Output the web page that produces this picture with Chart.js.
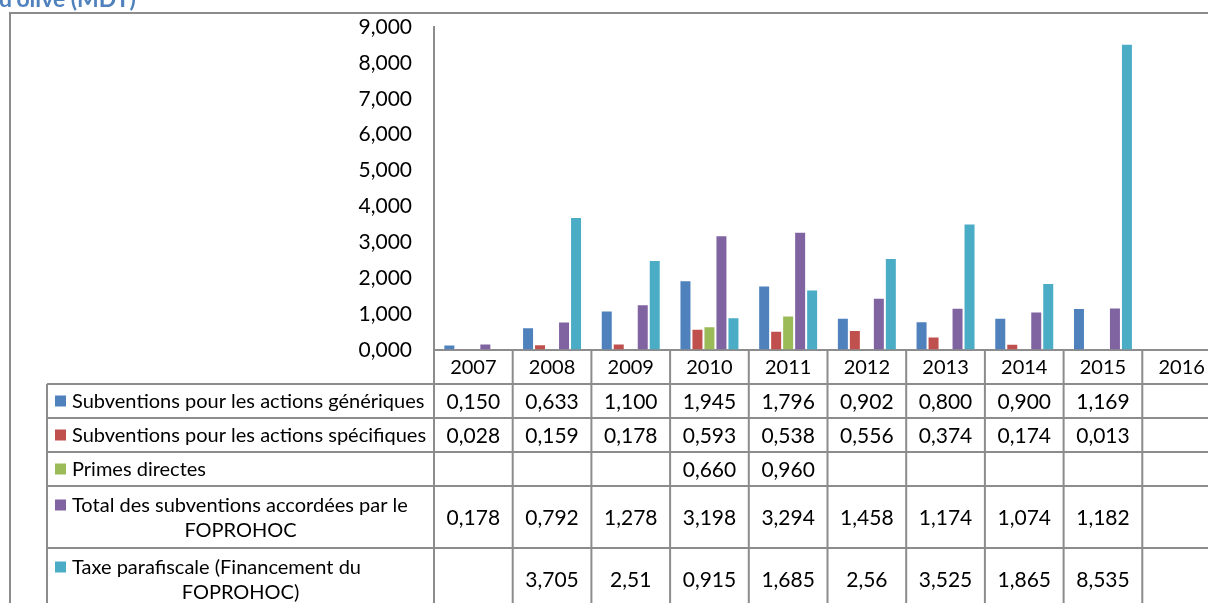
<!DOCTYPE html>
<html>
<head>
<meta charset="utf-8">
<script src="https://cdn.jsdelivr.net/npm/chart.js@4.4.0/dist/chart.umd.min.js"></script>
<style>
  html, body { margin: 0; padding: 0; background: #fff; overflow: hidden; width: 1208px; height: 603px; }
  #wrap { position: relative; width: 1208px; height: 603px; overflow: hidden; }
  canvas { position: absolute; left: 0; top: 0; }
</style>
</head>
<body>
<div id="wrap"><canvas id="chart" width="1240" height="603"></canvas></div>
<script>
// Years shown on the category axis and in the table header
const years = ['2007', '2008', '2009', '2010', '2011', '2012', '2013', '2014', '2015', '2016'];

// Series names as they appear in the data table
const seriesNames = [
  ['Subventions pour les actions génériques'],
  ['Subventions pour les actions spécifiques'],
  ['Primes directes'],
  ['Total des subventions accordées par le', 'FOPROHOC'],
  ['Taxe parafiscale (Financement du', 'FOPROHOC)']
];

// Table values (MDT), written as printed; empty string = no value
const actionsGeneriques   = ['0,150', '0,633', '1,100', '1,945', '1,796', '0,902', '0,800', '0,900', '1,169', ''];
const actionsSpecifiques  = ['0,028', '0,159', '0,178', '0,593', '0,538', '0,556', '0,374', '0,174', '0,013', ''];
const primesDirectes      = ['', '', '', '0,660', '0,960', '', '', '', '', ''];
const totalSubventions    = ['0,178', '0,792', '1,278', '3,198', '3,294', '1,458', '1,174', '1,074', '1,182', ''];
const taxeParafiscale     = ['', '3,705', '2,51', '0,915', '1,685', '2,56', '3,525', '1,865', '8,535', ''];

const seriesText = [actionsGeneriques, actionsSpecifiques, primesDirectes, totalSubventions, taxeParafiscale];
const seriesColors = ['#4F81BD', '#C0504D', '#9BBB59', '#8064A2', '#4BACC6'];

const toNumber = s => (s === '' ? null : parseFloat(s.replace(',', '.')));
const fmtTick = v => v.toFixed(3).replace('.', ',');

const FONT = 'Lato, "Open Sans", sans-serif';
const LINE = '#8c8c8c';

// Table layout below the plot
const TABLE = {
  left: 47,
  headerH: 34,
  rowH: [34, 34, 34, 62, 62],
  keySize: 11,
  keyX: 55,
  textX: 72
};

const frameAndTable = {
  id: 'frameAndTable',
  beforeDraw(chart) {
    const ctx = chart.ctx;
    ctx.save();
    // section heading, partly cut off by the top edge
    ctx.fillStyle = '#4F81BD';
    ctx.font = 'bold 23px ' + FONT;
    ctx.textAlign = 'left';
    ctx.textBaseline = 'alphabetic';
    ctx.fillText("d'olive (MDT)", -1, 7);
    // chart frame
    ctx.strokeStyle = LINE;
    ctx.lineWidth = 2;
    ctx.beginPath();
    ctx.moveTo(10, chart.height + 5);
    ctx.lineTo(10, 13);
    ctx.lineTo(chart.width + 5, 13);
    ctx.stroke();
    ctx.restore();
  },
  afterDraw(chart) {
    const ctx = chart.ctx;
    const xs = chart.scales.x;
    const area = chart.chartArea;
    const step = xs.getPixelForValue(1) - xs.getPixelForValue(0);
    const edges = years.map((_, i) => xs.getPixelForValue(i) - step / 2);
    edges.push(xs.getPixelForValue(years.length - 1) + step / 2);

    const top = area.bottom;
    const headerBottom = top + TABLE.headerH;
    const rowTops = [headerBottom];
    TABLE.rowH.forEach(h => rowTops.push(rowTops[rowTops.length - 1] + h));
    const tableBottom = rowTops[rowTops.length - 1];

    ctx.save();
    ctx.strokeStyle = LINE;
    ctx.lineWidth = 2;
    ctx.beginPath();
    // vertical lines of the value columns
    edges.forEach(x => { ctx.moveTo(x, top); ctx.lineTo(x, tableBottom); });
    // label column left border
    ctx.moveTo(TABLE.left, headerBottom); ctx.lineTo(TABLE.left, tableBottom);
    // horizontal rules
    rowTops.forEach(y => { ctx.moveTo(TABLE.left, y); ctx.lineTo(edges[edges.length - 1], y); });
    ctx.stroke();

    ctx.fillStyle = '#000';
    ctx.textBaseline = 'middle';
    // header years
    ctx.font = '20px ' + FONT;
    ctx.textAlign = 'center';
    years.forEach((y, i) => ctx.fillText(y, xs.getPixelForValue(i), (top + headerBottom) / 2 + 1));

    // rows
    seriesNames.forEach((lines, r) => {
      const y0 = rowTops[r], y1 = rowTops[r + 1];
      const mid = (y0 + y1) / 2;
      ctx.font = '20px ' + FONT;
      if (lines.length === 1) {
        ctx.fillStyle = seriesColors[r];
        ctx.fillRect(TABLE.keyX, mid - TABLE.keySize / 2, TABLE.keySize, TABLE.keySize);
        ctx.fillStyle = '#000';
        ctx.textAlign = 'left';
        ctx.fillText(lines[0], TABLE.textX, mid + 1);
      } else {
        const l1 = mid - 12, l2 = mid + 13;
        ctx.fillStyle = seriesColors[r];
        ctx.fillRect(TABLE.keyX, l1 - TABLE.keySize / 2, TABLE.keySize, TABLE.keySize);
        ctx.fillStyle = '#000';
        ctx.textAlign = 'left';
        ctx.fillText(lines[0], TABLE.textX, l1 + 1);
        ctx.textAlign = 'center';
        ctx.fillText(lines[1], (TABLE.left + area.left) / 2, l2 + 1);
      }
      ctx.textAlign = 'center';
      ctx.font = '21px ' + FONT;
      seriesText[r].forEach((txt, i) => {
        if (txt !== '') ctx.fillText(txt, xs.getPixelForValue(i), mid + 1);
      });
    });
    ctx.restore();
  }
};

const datasets = seriesNames.map((name, i) => ({
  label: name.join(' '),
  data: seriesText[i].map(toNumber),
  backgroundColor: seriesColors[i],
  borderColor: 'rgba(255,255,255,0.45)',
  borderWidth: 1,
  categoryPercentage: 0.762,
  barPercentage: 1.0
}));

new Chart(document.getElementById('chart'), {
  type: 'bar',
  data: { labels: years, datasets },
  options: {
    responsive: false,
    animation: false,
    layout: { padding: { top: 27, bottom: 603 - 350, left: 0, right: 19 } },
    plugins: { legend: { display: false }, tooltip: { enabled: false } },
    scales: {
      x: {
        grid: { display: false, drawTicks: false },
        border: { display: true, color: LINE, width: 2 },
        ticks: { display: false },
        afterFit(s) { s.height = 0; }
      },
      y: {
        min: 0,
        max: 9,
        ticks: {
          stepSize: 1,
          padding: 3,
          color: '#000',
          font: { family: FONT, size: 21 },
          callback: v => fmtTick(v)
        },
        // invisible tick marks keep the labels clear of the axis line
        grid: { display: true, drawOnChartArea: false, drawTicks: true, tickLength: 19, tickColor: 'rgba(0,0,0,0)' },
        border: { display: true, color: LINE, width: 2 },
        afterFit(s) { s.width = 434; }
      }
    }
  },
  plugins: [frameAndTable]
});
</script>
</body>
</html>
